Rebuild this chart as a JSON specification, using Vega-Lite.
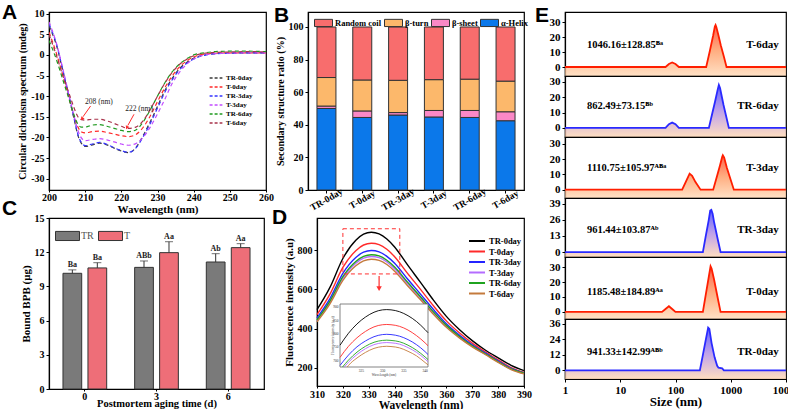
{
"$schema":"https://vega.github.io/schema/vega-lite/v6.json",
"background":"white",
"padding":{"left":1,"top":1,"right":0,"bottom":0},
"config":{
 "font":"Liberation Serif",
 "view":{"stroke":"#000","strokeWidth":1.2},
 "axis":{"grid":false,"domainColor":"#000","domainWidth":1.2,"tickColor":"#000","tickSize":3,"labelColor":"#000","titleColor":"#000","labelFont":"Liberation Serif","titleFont":"Liberation Serif","labelFontWeight":"bold","titleFontWeight":"bold","labelFontSize":10,"titleFontSize":11,"labelPadding":2,"titlePadding":3,"labelOverlap":false,"labelBound":false,"labelFlush":false},
 "legend":{"labelFont":"Liberation Serif","labelFontWeight":"bold","labelColor":"#000","labelFontSize":8.5},
 "title":{"font":"Liberation Sans","fontSize":21,"fontWeight":"bold","anchor":"start","frame":"group","offset":0,"color":"#000"},
 "text":{"font":"Liberation Serif"}
},
"datasets":{
"cd":[
{"s":"TR-0day","wl":200,"cd":7},{"s":"TR-0day","wl":202,"cd":2.5},{"s":"TR-0day","wl":204,"cd":-4.5},{"s":"TR-0day","wl":206,"cd":-12},{"s":"TR-0day","wl":207,"cd":-15.8},{"s":"TR-0day","wl":208,"cd":-19.5},{"s":"TR-0day","wl":209,"cd":-21.5},{"s":"TR-0day","wl":210,"cd":-22.2},{"s":"TR-0day","wl":212,"cd":-21.8},{"s":"TR-0day","wl":214,"cd":-21.4},{"s":"TR-0day","wl":216,"cd":-21.8},{"s":"TR-0day","wl":218,"cd":-22.6},{"s":"TR-0day","wl":220,"cd":-23.3},{"s":"TR-0day","wl":222,"cd":-23.7},{"s":"TR-0day","wl":224,"cd":-22.5},{"s":"TR-0day","wl":226,"cd":-19.6},{"s":"TR-0day","wl":228,"cd":-16.2},{"s":"TR-0day","wl":230,"cd":-12.5},{"s":"TR-0day","wl":232,"cd":-8.7},{"s":"TR-0day","wl":234,"cd":-5.8},{"s":"TR-0day","wl":236,"cd":-3.4},{"s":"TR-0day","wl":238,"cd":-1.9},{"s":"TR-0day","wl":240,"cd":-0.8},{"s":"TR-0day","wl":243,"cd":0},{"s":"TR-0day","wl":246,"cd":0.3},{"s":"TR-0day","wl":250,"cd":0.4},{"s":"TR-0day","wl":255,"cd":0.5},{"s":"TR-0day","wl":260,"cd":0.5},
{"s":"T-0day","wl":200,"cd":5.5},{"s":"T-0day","wl":202,"cd":0.5},{"s":"T-0day","wl":204,"cd":-5.5},{"s":"T-0day","wl":206,"cd":-12},{"s":"T-0day","wl":207,"cd":-15},{"s":"T-0day","wl":208,"cd":-17.5},{"s":"T-0day","wl":209,"cd":-18.7},{"s":"T-0day","wl":210,"cd":-18.9},{"s":"T-0day","wl":212,"cd":-18.6},{"s":"T-0day","wl":214,"cd":-18.5},{"s":"T-0day","wl":216,"cd":-18.8},{"s":"T-0day","wl":218,"cd":-19.2},{"s":"T-0day","wl":220,"cd":-19.6},{"s":"T-0day","wl":222,"cd":-19.8},{"s":"T-0day","wl":224,"cd":-19.3},{"s":"T-0day","wl":226,"cd":-17.6},{"s":"T-0day","wl":228,"cd":-14.8},{"s":"T-0day","wl":230,"cd":-11.3},{"s":"T-0day","wl":232,"cd":-8},{"s":"T-0day","wl":234,"cd":-5.2},{"s":"T-0day","wl":236,"cd":-3},{"s":"T-0day","wl":238,"cd":-1.5},{"s":"T-0day","wl":240,"cd":-0.5},{"s":"T-0day","wl":243,"cd":0.2},{"s":"T-0day","wl":246,"cd":0.4},{"s":"T-0day","wl":250,"cd":0.5},{"s":"T-0day","wl":255,"cd":0.5},{"s":"T-0day","wl":260,"cd":0.5},
{"s":"TR-3day","wl":200,"cd":7.5},{"s":"TR-3day","wl":202,"cd":2.8},{"s":"TR-3day","wl":204,"cd":-4.3},{"s":"TR-3day","wl":206,"cd":-11.8},{"s":"TR-3day","wl":207,"cd":-15.6},{"s":"TR-3day","wl":208,"cd":-19.3},{"s":"TR-3day","wl":209,"cd":-21.3},{"s":"TR-3day","wl":210,"cd":-22},{"s":"TR-3day","wl":212,"cd":-21.6},{"s":"TR-3day","wl":214,"cd":-21.2},{"s":"TR-3day","wl":216,"cd":-21.7},{"s":"TR-3day","wl":218,"cd":-22.5},{"s":"TR-3day","wl":220,"cd":-23.2},{"s":"TR-3day","wl":222,"cd":-23.6},{"s":"TR-3day","wl":224,"cd":-22.6},{"s":"TR-3day","wl":226,"cd":-19.9},{"s":"TR-3day","wl":228,"cd":-16.6},{"s":"TR-3day","wl":230,"cd":-12.9},{"s":"TR-3day","wl":232,"cd":-9.1},{"s":"TR-3day","wl":234,"cd":-6.1},{"s":"TR-3day","wl":236,"cd":-3.7},{"s":"TR-3day","wl":238,"cd":-2.1},{"s":"TR-3day","wl":240,"cd":-1},{"s":"TR-3day","wl":243,"cd":-0.1},{"s":"TR-3day","wl":246,"cd":0.3},{"s":"TR-3day","wl":250,"cd":0.4},{"s":"TR-3day","wl":255,"cd":0.5},{"s":"TR-3day","wl":260,"cd":0.5},
{"s":"T-3day","wl":200,"cd":8},{"s":"T-3day","wl":202,"cd":3},{"s":"T-3day","wl":204,"cd":-4},{"s":"T-3day","wl":206,"cd":-11.5},{"s":"T-3day","wl":207,"cd":-15},{"s":"T-3day","wl":208,"cd":-18.3},{"s":"T-3day","wl":209,"cd":-20.2},{"s":"T-3day","wl":210,"cd":-20.8},{"s":"T-3day","wl":212,"cd":-20.5},{"s":"T-3day","wl":214,"cd":-20.3},{"s":"T-3day","wl":216,"cd":-20.6},{"s":"T-3day","wl":218,"cd":-21.1},{"s":"T-3day","wl":220,"cd":-21.6},{"s":"T-3day","wl":222,"cd":-21.9},{"s":"T-3day","wl":224,"cd":-21.5},{"s":"T-3day","wl":226,"cd":-20},{"s":"T-3day","wl":228,"cd":-17.5},{"s":"T-3day","wl":230,"cd":-14.3},{"s":"T-3day","wl":232,"cd":-10.8},{"s":"T-3day","wl":234,"cd":-7},{"s":"T-3day","wl":236,"cd":-4.3},{"s":"T-3day","wl":238,"cd":-2.3},{"s":"T-3day","wl":240,"cd":-1},{"s":"T-3day","wl":243,"cd":0},{"s":"T-3day","wl":246,"cd":0.3},{"s":"T-3day","wl":250,"cd":0.4},{"s":"T-3day","wl":255,"cd":0.5},{"s":"T-3day","wl":260,"cd":0.5},
{"s":"TR-6day","wl":200,"cd":3.5},{"s":"TR-6day","wl":202,"cd":-1},{"s":"TR-6day","wl":204,"cd":-6.5},{"s":"TR-6day","wl":206,"cd":-12},{"s":"TR-6day","wl":207,"cd":-14.8},{"s":"TR-6day","wl":208,"cd":-16.8},{"s":"TR-6day","wl":209,"cd":-17.5},{"s":"TR-6day","wl":210,"cd":-17.5},{"s":"TR-6day","wl":212,"cd":-17},{"s":"TR-6day","wl":214,"cd":-16.9},{"s":"TR-6day","wl":216,"cd":-17.3},{"s":"TR-6day","wl":218,"cd":-17.8},{"s":"TR-6day","wl":220,"cd":-18.3},{"s":"TR-6day","wl":222,"cd":-18.6},{"s":"TR-6day","wl":224,"cd":-18.2},{"s":"TR-6day","wl":226,"cd":-16.3},{"s":"TR-6day","wl":228,"cd":-13.3},{"s":"TR-6day","wl":230,"cd":-10},{"s":"TR-6day","wl":232,"cd":-6.8},{"s":"TR-6day","wl":234,"cd":-4.2},{"s":"TR-6day","wl":236,"cd":-2.3},{"s":"TR-6day","wl":238,"cd":-1},{"s":"TR-6day","wl":240,"cd":0},{"s":"TR-6day","wl":243,"cd":0.5},{"s":"TR-6day","wl":246,"cd":0.8},{"s":"TR-6day","wl":250,"cd":0.9},{"s":"TR-6day","wl":255,"cd":0.9},{"s":"TR-6day","wl":260,"cd":0.8},
{"s":"T-6day","wl":200,"cd":5},{"s":"T-6day","wl":202,"cd":0},{"s":"T-6day","wl":204,"cd":-5.5},{"s":"T-6day","wl":206,"cd":-10.5},{"s":"T-6day","wl":207,"cd":-13},{"s":"T-6day","wl":208,"cd":-15},{"s":"T-6day","wl":209,"cd":-15.7},{"s":"T-6day","wl":210,"cd":-15.8},{"s":"T-6day","wl":212,"cd":-15.6},{"s":"T-6day","wl":214,"cd":-15.6},{"s":"T-6day","wl":216,"cd":-16},{"s":"T-6day","wl":218,"cd":-16.6},{"s":"T-6day","wl":220,"cd":-17.3},{"s":"T-6day","wl":222,"cd":-17.8},{"s":"T-6day","wl":224,"cd":-17.5},{"s":"T-6day","wl":226,"cd":-16},{"s":"T-6day","wl":228,"cd":-13.2},{"s":"T-6day","wl":230,"cd":-10},{"s":"T-6day","wl":232,"cd":-6.9},{"s":"T-6day","wl":234,"cd":-4.3},{"s":"T-6day","wl":236,"cd":-2.4},{"s":"T-6day","wl":238,"cd":-1.1},{"s":"T-6day","wl":240,"cd":-0.2},{"s":"T-6day","wl":243,"cd":0.4},{"s":"T-6day","wl":246,"cd":0.6},{"s":"T-6day","wl":250,"cd":0.7},{"s":"T-6day","wl":255,"cd":0.8},{"s":"T-6day","wl":260,"cd":0.7}
],
"ss":[
{"sample":"TR-0day","st":"α-Helix","pct":50,"k":1},{"sample":"TR-0day","st":"β-sheet","pct":1.5,"k":2},{"sample":"TR-0day","st":"β-turn","pct":17.5,"k":3},{"sample":"TR-0day","st":"Random coil","pct":31,"k":4},
{"sample":"T-0day","st":"α-Helix","pct":44.5,"k":1},{"sample":"T-0day","st":"β-sheet","pct":4,"k":2},{"sample":"T-0day","st":"β-turn","pct":19,"k":3},{"sample":"T-0day","st":"Random coil","pct":32.5,"k":4},
{"sample":"TR-3day","st":"α-Helix","pct":46,"k":1},{"sample":"TR-3day","st":"β-sheet","pct":1.5,"k":2},{"sample":"TR-3day","st":"β-turn","pct":19.8,"k":3},{"sample":"TR-3day","st":"Random coil","pct":32.7,"k":4},
{"sample":"T-3day","st":"α-Helix","pct":44.8,"k":1},{"sample":"T-3day","st":"β-sheet","pct":4,"k":2},{"sample":"T-3day","st":"β-turn","pct":18.9,"k":3},{"sample":"T-3day","st":"Random coil","pct":32.3,"k":4},
{"sample":"TR-6day","st":"α-Helix","pct":44.5,"k":1},{"sample":"TR-6day","st":"β-sheet","pct":4.3,"k":2},{"sample":"TR-6day","st":"β-turn","pct":19.2,"k":3},{"sample":"TR-6day","st":"Random coil","pct":32,"k":4},
{"sample":"T-6day","st":"α-Helix","pct":42.5,"k":1},{"sample":"T-6day","st":"β-sheet","pct":5.5,"k":2},{"sample":"T-6day","st":"β-turn","pct":18.8,"k":3},{"sample":"T-6day","st":"Random coil","pct":33.2,"k":4}
],
"bpb":[
{"day":"0","g":"TR","v":10.15,"hi":10.45,"lab":"Ba"},{"day":"0","g":"T","v":10.62,"hi":11.08,"lab":"Ba"},
{"day":"3","g":"TR","v":10.67,"hi":11.23,"lab":"ABb"},{"day":"3","g":"T","v":11.96,"hi":12.92,"lab":"Aa"},
{"day":"6","g":"TR","v":11.14,"hi":11.87,"lab":"Ab"},{"day":"6","g":"T","v":12.4,"hi":12.75,"lab":"Aa"}
],
"fl":[
{"s":"TR-0day","wl":310,"fi":496},{"s":"TR-0day","wl":315,"fi":610},{"s":"TR-0day","wl":320,"fi":758},{"s":"TR-0day","wl":325,"fi":851},{"s":"TR-0day","wl":328,"fi":882},{"s":"TR-0day","wl":331,"fi":892},{"s":"TR-0day","wl":334,"fi":884},{"s":"TR-0day","wl":337,"fi":858},{"s":"TR-0day","wl":340,"fi":817},{"s":"TR-0day","wl":345,"fi":725},{"s":"TR-0day","wl":350,"fi":636},{"s":"TR-0day","wl":355,"fi":545},{"s":"TR-0day","wl":360,"fi":462},{"s":"TR-0day","wl":365,"fi":395},{"s":"TR-0day","wl":370,"fi":338},{"s":"TR-0day","wl":375,"fi":290},{"s":"TR-0day","wl":380,"fi":250},{"s":"TR-0day","wl":385,"fi":212},{"s":"TR-0day","wl":390,"fi":185},
{"s":"T-0day","wl":310,"fi":471},{"s":"T-0day","wl":315,"fi":576},{"s":"T-0day","wl":320,"fi":712},{"s":"T-0day","wl":325,"fi":798},{"s":"T-0day","wl":328,"fi":827},{"s":"T-0day","wl":331,"fi":836},{"s":"T-0day","wl":334,"fi":829},{"s":"T-0day","wl":337,"fi":805},{"s":"T-0day","wl":340,"fi":767},{"s":"T-0day","wl":345,"fi":682},{"s":"T-0day","wl":350,"fi":600},{"s":"T-0day","wl":355,"fi":516},{"s":"T-0day","wl":360,"fi":439},{"s":"T-0day","wl":365,"fi":378},{"s":"T-0day","wl":370,"fi":325},{"s":"T-0day","wl":375,"fi":281},{"s":"T-0day","wl":380,"fi":240},{"s":"T-0day","wl":385,"fi":200},{"s":"T-0day","wl":390,"fi":176},
{"s":"TR-3day","wl":310,"fi":454},{"s":"TR-3day","wl":315,"fi":553},{"s":"TR-3day","wl":320,"fi":682},{"s":"TR-3day","wl":325,"fi":763},{"s":"TR-3day","wl":328,"fi":790},{"s":"TR-3day","wl":331,"fi":799},{"s":"TR-3day","wl":334,"fi":792},{"s":"TR-3day","wl":337,"fi":769},{"s":"TR-3day","wl":340,"fi":734},{"s":"TR-3day","wl":345,"fi":653},{"s":"TR-3day","wl":350,"fi":576},{"s":"TR-3day","wl":355,"fi":497},{"s":"TR-3day","wl":360,"fi":424},{"s":"TR-3day","wl":365,"fi":366},{"s":"TR-3day","wl":370,"fi":316},{"s":"TR-3day","wl":375,"fi":275},{"s":"TR-3day","wl":380,"fi":234},{"s":"TR-3day","wl":385,"fi":196},{"s":"TR-3day","wl":390,"fi":173},
{"s":"T-3day","wl":310,"fi":440},{"s":"T-3day","wl":315,"fi":535},{"s":"T-3day","wl":320,"fi":657},{"s":"T-3day","wl":325,"fi":734},{"s":"T-3day","wl":328,"fi":760},{"s":"T-3day","wl":331,"fi":768},{"s":"T-3day","wl":334,"fi":762},{"s":"T-3day","wl":337,"fi":740},{"s":"T-3day","wl":340,"fi":706},{"s":"T-3day","wl":345,"fi":630},{"s":"T-3day","wl":350,"fi":556},{"s":"T-3day","wl":355,"fi":481},{"s":"T-3day","wl":360,"fi":412},{"s":"T-3day","wl":365,"fi":356},{"s":"T-3day","wl":370,"fi":309},{"s":"T-3day","wl":375,"fi":269},{"s":"T-3day","wl":380,"fi":229},{"s":"T-3day","wl":385,"fi":192},{"s":"T-3day","wl":390,"fi":170},
{"s":"TR-6day","wl":310,"fi":444},{"s":"TR-6day","wl":315,"fi":540},{"s":"TR-6day","wl":320,"fi":665},{"s":"TR-6day","wl":325,"fi":743},{"s":"TR-6day","wl":328,"fi":769},{"s":"TR-6day","wl":331,"fi":777},{"s":"TR-6day","wl":334,"fi":771},{"s":"TR-6day","wl":337,"fi":749},{"s":"TR-6day","wl":340,"fi":714},{"s":"TR-6day","wl":345,"fi":637},{"s":"TR-6day","wl":350,"fi":562},{"s":"TR-6day","wl":355,"fi":485},{"s":"TR-6day","wl":360,"fi":416},{"s":"TR-6day","wl":365,"fi":359},{"s":"TR-6day","wl":370,"fi":311},{"s":"TR-6day","wl":375,"fi":271},{"s":"TR-6day","wl":380,"fi":230},{"s":"TR-6day","wl":385,"fi":193},{"s":"TR-6day","wl":390,"fi":171},
{"s":"T-6day","wl":310,"fi":434},{"s":"T-6day","wl":315,"fi":526},{"s":"T-6day","wl":320,"fi":646},{"s":"T-6day","wl":325,"fi":721},{"s":"T-6day","wl":328,"fi":746},{"s":"T-6day","wl":331,"fi":754},{"s":"T-6day","wl":334,"fi":748},{"s":"T-6day","wl":337,"fi":727},{"s":"T-6day","wl":340,"fi":693},{"s":"T-6day","wl":345,"fi":619},{"s":"T-6day","wl":350,"fi":547},{"s":"T-6day","wl":355,"fi":473},{"s":"T-6day","wl":360,"fi":406},{"s":"T-6day","wl":365,"fi":352},{"s":"T-6day","wl":370,"fi":306},{"s":"T-6day","wl":375,"fi":267},{"s":"T-6day","wl":380,"fi":227},{"s":"T-6day","wl":385,"fi":190},{"s":"T-6day","wl":390,"fi":168}
],
"fli":[
{"s":"TR-0day","wl":320,"fi":758},{"s":"TR-0day","wl":322,"fi":803},{"s":"TR-0day","wl":324,"fi":838},{"s":"TR-0day","wl":326,"fi":864},{"s":"TR-0day","wl":328,"fi":882},{"s":"TR-0day","wl":330,"fi":891},{"s":"TR-0day","wl":331,"fi":892},{"s":"TR-0day","wl":332,"fi":891},{"s":"TR-0day","wl":334,"fi":884},{"s":"TR-0day","wl":336,"fi":869},{"s":"TR-0day","wl":338,"fi":847},{"s":"TR-0day","wl":340,"fi":817},{"s":"TR-0day","wl":340.7,"fi":805},
{"s":"T-0day","wl":320,"fi":712},{"s":"T-0day","wl":322,"fi":754},{"s":"T-0day","wl":324,"fi":786},{"s":"T-0day","wl":326,"fi":810},{"s":"T-0day","wl":328,"fi":827},{"s":"T-0day","wl":330,"fi":835},{"s":"T-0day","wl":331,"fi":836},{"s":"T-0day","wl":332,"fi":835},{"s":"T-0day","wl":334,"fi":829},{"s":"T-0day","wl":336,"fi":815},{"s":"T-0day","wl":338,"fi":794},{"s":"T-0day","wl":340,"fi":767},{"s":"T-0day","wl":340.7,"fi":756},
{"s":"TR-3day","wl":320,"fi":682},{"s":"TR-3day","wl":322,"fi":721},{"s":"TR-3day","wl":324,"fi":752},{"s":"TR-3day","wl":326,"fi":774},{"s":"TR-3day","wl":328,"fi":790},{"s":"TR-3day","wl":330,"fi":798},{"s":"TR-3day","wl":331,"fi":799},{"s":"TR-3day","wl":332,"fi":798},{"s":"TR-3day","wl":334,"fi":792},{"s":"TR-3day","wl":336,"fi":779},{"s":"TR-3day","wl":338,"fi":760},{"s":"TR-3day","wl":340,"fi":734},{"s":"TR-3day","wl":340.7,"fi":723},
{"s":"T-3day","wl":321,"fi":676},{"s":"T-3day","wl":322,"fi":694},{"s":"T-3day","wl":324,"fi":723},{"s":"T-3day","wl":326,"fi":745},{"s":"T-3day","wl":328,"fi":760},{"s":"T-3day","wl":330,"fi":767},{"s":"T-3day","wl":331,"fi":768},{"s":"T-3day","wl":332,"fi":767},{"s":"T-3day","wl":334,"fi":762},{"s":"T-3day","wl":336,"fi":749},{"s":"T-3day","wl":338,"fi":731},{"s":"T-3day","wl":340,"fi":706},{"s":"T-3day","wl":340.7,"fi":696},
{"s":"TR-6day","wl":320.6,"fi":676},{"s":"TR-6day","wl":322,"fi":702},{"s":"TR-6day","wl":324,"fi":732},{"s":"TR-6day","wl":326,"fi":754},{"s":"TR-6day","wl":328,"fi":769},{"s":"TR-6day","wl":330,"fi":776},{"s":"TR-6day","wl":331,"fi":777},{"s":"TR-6day","wl":332,"fi":776},{"s":"TR-6day","wl":334,"fi":771},{"s":"TR-6day","wl":336,"fi":758},{"s":"TR-6day","wl":338,"fi":739},{"s":"TR-6day","wl":340,"fi":714},{"s":"TR-6day","wl":340.7,"fi":704},
{"s":"T-6day","wl":321.7,"fi":676},{"s":"T-6day","wl":322,"fi":682},{"s":"T-6day","wl":324,"fi":710},{"s":"T-6day","wl":326,"fi":731},{"s":"T-6day","wl":328,"fi":746},{"s":"T-6day","wl":330,"fi":753},{"s":"T-6day","wl":331,"fi":754},{"s":"T-6day","wl":332,"fi":753},{"s":"T-6day","wl":334,"fi":748},{"s":"T-6day","wl":336,"fi":735},{"s":"T-6day","wl":338,"fi":718},{"s":"T-6day","wl":340,"fi":693},{"s":"T-6day","wl":340.7,"fi":684}
],
"dls":[
{"s":"T-6day","size":1,"n":0},{"s":"T-6day","size":66,"n":0},{"s":"T-6day","size":76,"n":2},{"s":"T-6day","size":87,"n":3},{"s":"T-6day","size":100,"n":2},{"s":"T-6day","size":115,"n":0},{"s":"T-6day","size":359,"n":0},{"s":"T-6day","size":375,"n":3},{"s":"T-6day","size":420,"n":11},{"s":"T-6day","size":480,"n":21},{"s":"T-6day","size":515,"n":27},{"s":"T-6day","size":531,"n":28},{"s":"T-6day","size":550,"n":26.5},{"s":"T-6day","size":600,"n":21},{"s":"T-6day","size":660,"n":14.5},{"s":"T-6day","size":750,"n":7},{"s":"T-6day","size":839,"n":0},{"s":"T-6day","size":10000,"n":0},
{"s":"TR-6day","size":1,"n":0},{"s":"TR-6day","size":66,"n":0},{"s":"TR-6day","size":76,"n":2.5},{"s":"TR-6day","size":87,"n":3.5},{"s":"TR-6day","size":100,"n":2.5},{"s":"TR-6day","size":115,"n":0},{"s":"TR-6day","size":402,"n":0},{"s":"TR-6day","size":450,"n":7.6},{"s":"TR-6day","size":520,"n":17.3},{"s":"TR-6day","size":580,"n":25},{"s":"TR-6day","size":609,"n":28},{"s":"TR-6day","size":640,"n":26},{"s":"TR-6day","size":740,"n":15},{"s":"TR-6day","size":840,"n":6.5},{"s":"TR-6day","size":924,"n":0},{"s":"TR-6day","size":10000,"n":0},
{"s":"T-3day","size":1,"n":0},{"s":"T-3day","size":132,"n":0},{"s":"T-3day","size":155,"n":5.5},{"s":"T-3day","size":180,"n":10.5},{"s":"T-3day","size":200,"n":9},{"s":"T-3day","size":230,"n":5},{"s":"T-3day","size":284,"n":0},{"s":"T-3day","size":481,"n":0},{"s":"T-3day","size":560,"n":8.5},{"s":"T-3day","size":640,"n":16},{"s":"T-3day","size":700,"n":21.5},{"s":"T-3day","size":719,"n":22.5},{"s":"T-3day","size":760,"n":21},{"s":"T-3day","size":850,"n":14.3},{"s":"T-3day","size":1000,"n":6.3},{"s":"T-3day","size":1138,"n":0},{"s":"T-3day","size":10000,"n":0},
{"s":"TR-3day","size":1,"n":0},{"s":"TR-3day","size":313,"n":0},{"s":"TR-3day","size":350,"n":12},{"s":"TR-3day","size":400,"n":26},{"s":"TR-3day","size":425,"n":33.5},{"s":"TR-3day","size":445,"n":34},{"s":"TR-3day","size":470,"n":31},{"s":"TR-3day","size":500,"n":24},{"s":"TR-3day","size":580,"n":10.5},{"s":"TR-3day","size":654,"n":0},{"s":"TR-3day","size":10000,"n":0},
{"s":"T-0day","size":1,"n":0},{"s":"T-0day","size":57,"n":0},{"s":"T-0day","size":66,"n":2},{"s":"T-0day","size":76,"n":3.8},{"s":"T-0day","size":87,"n":2},{"s":"T-0day","size":100,"n":0},{"s":"T-0day","size":313,"n":0},{"s":"T-0day","size":350,"n":10.7},{"s":"T-0day","size":400,"n":23.4},{"s":"T-0day","size":431,"n":30.5},{"s":"T-0day","size":450,"n":29},{"s":"T-0day","size":500,"n":21.5},{"s":"T-0day","size":580,"n":9.5},{"s":"T-0day","size":654,"n":0},{"s":"T-0day","size":10000,"n":0},
{"s":"TR-0day","size":1,"n":0},{"s":"TR-0day","size":276,"n":0},{"s":"TR-0day","size":310,"n":11},{"s":"TR-0day","size":350,"n":22.7},{"s":"TR-0day","size":390,"n":33},{"s":"TR-0day","size":410,"n":32},{"s":"TR-0day","size":450,"n":21},{"s":"TR-0day","size":510,"n":10},{"s":"TR-0day","size":568,"n":3.5},{"s":"TR-0day","size":600,"n":2},{"s":"TR-0day","size":700,"n":1.5},{"s":"TR-0day","size":750,"n":0},{"s":"TR-0day","size":10000,"n":0}
],
"dlslab":[
{"s":"T-6day","size":2.5,"size2":7400,"n":15,"t":"1046.16±128.85ᴮᵃ"},
{"s":"TR-6day","size":2.5,"size2":7400,"n":14.4,"t":"862.49±73.15ᴮᵇ"},
{"s":"T-3day","size":2.5,"size2":7400,"n":14.4,"t":"1110.75±105.97ᴬᴮᵃ"},
{"s":"TR-3day","size":2.5,"size2":7400,"n":17.5,"t":"961.44±103.87ᴬᵇ"},
{"s":"T-0day","size":2.5,"size2":7400,"n":13.3,"t":"1185.48±184.89ᴬᵃ"},
{"s":"TR-0day","size":2.5,"size2":7400,"n":14,"t":"941.33±142.99ᴬᴮᵇ"}
]
},
"hconcat":[
{"vconcat":[
 {"hconcat":[
  {"width":217,"height":178,
   "title":{"text":"A","dx":-47,"dy":18},
   "layer":[
    {"data":{"name":"cd"},
     "mark":{"type":"line","strokeDash":[4,3],"strokeWidth":1.2,"interpolate":"monotone","clip":true},
     "encoding":{
      "x":{"field":"wl","type":"quantitative","scale":{"domain":[200,260],"nice":false,"zero":false},"axis":{"values":[200,210,220,230,240,250,260],"title":"Wavelength (nm)","labelOverlap":false,"tickSize":2,"labelPadding":0,"titlePadding":1}},
      "y":{"field":"cd","type":"quantitative","scale":{"domain":[-32.75,10.4],"nice":false,"zero":false},"axis":{"values":[-30,-25,-20,-15,-10,-5,0,5,10],"labelOverlap":false,"labelExpr":"toString(datum.value)","title":"Circular dichroism spectrum (mdeg)","titleFontSize":10}},
      "color":{"field":"s","type":"nominal","scale":{"domain":["TR-0day","T-0day","TR-3day","T-3day","TR-6day","T-6day"],"range":["#3a3a3a","#ff2a2a","#3535ff","#c24cff","#1f9a1f","#a8324a"]},
       "legend":{"orient":"none","legendX":162,"legendY":61,"title":null,"symbolType":"M-1.6,0H1.6","symbolDash":[3,2],"symbolStrokeWidth":1.3,"symbolSize":64,"labelFontSize":7,"rowPadding":1,"labelOffset":5,"padding":0}}
     }},
    {"data":{"values":[{"wl":213.8,"cd":-11.3,"t":"208 (nm)"},{"wl":224.9,"cd":-13.2,"t":"222 (nm)"}]},
     "mark":{"type":"text","fontSize":7.5,"color":"#222"},
     "encoding":{"x":{"field":"wl","type":"quantitative","axis":{"values":[200,210,220,230,240,250,260],"title":"Wavelength (nm)","labelOverlap":false,"tickSize":2,"labelPadding":0,"titlePadding":1}},"y":{"field":"cd","type":"quantitative","axis":{"values":[-30,-25,-20,-15,-10,-5,0,5,10],"labelOverlap":false,"labelExpr":"toString(datum.value)","title":"Circular dichroism spectrum (mdeg)","titleFontSize":10}},"text":{"field":"t"}}},
    {"data":{"values":[{"wl":211.5,"cd":-12.4,"wl2":209.4,"cd2":-15},{"wl":223.5,"cd":-14.4,"wl2":221.8,"cd2":-17.1}]},
     "mark":{"type":"rule","color":"#ff2a2a","strokeWidth":1},
     "encoding":{"x":{"field":"wl","type":"quantitative","axis":{"values":[200,210,220,230,240,250,260],"title":"Wavelength (nm)","labelOverlap":false,"tickSize":2,"labelPadding":0,"titlePadding":1}},"y":{"field":"cd","type":"quantitative","axis":{"values":[-30,-25,-20,-15,-10,-5,0,5,10],"labelOverlap":false,"labelExpr":"toString(datum.value)","title":"Circular dichroism spectrum (mdeg)","titleFontSize":10}},"x2":{"field":"wl2"},"y2":{"field":"cd2"}}},
    {"data":{"values":[{"wl":209.2,"cd":-15.4,"ang":216},{"wl":221.6,"cd":-17.5,"ang":205}]},
     "mark":{"type":"point","shape":"triangle","size":16,"filled":true,"color":"#ff2a2a","opacity":1},
     "encoding":{"x":{"field":"wl","type":"quantitative","axis":{"values":[200,210,220,230,240,250,260],"title":"Wavelength (nm)","labelOverlap":false,"tickSize":2,"labelPadding":0,"titlePadding":1}},"y":{"field":"cd","type":"quantitative","axis":{"values":[-30,-25,-20,-15,-10,-5,0,5,10],"labelOverlap":false,"labelExpr":"toString(datum.value)","title":"Circular dichroism spectrum (mdeg)","titleFontSize":10}},"angle":{"field":"ang","type":"quantitative","scale":null}}}
   ]},
  {"width":216,"height":178,
   "title":{"text":"B","dx":-34,"dy":18},
   "data":{"name":"ss"},
   "mark":{"type":"bar","stroke":"#333","strokeWidth":1},
   "encoding":{
    "x":{"field":"sample","type":"nominal","sort":["TR-0day","T-0day","TR-3day","T-3day","TR-6day","T-6day"],"scale":{"paddingInner":0.47,"paddingOuter":0.25},"axis":{"title":null,"labelOverlap":false,"labelAngle":-30,"labelAlign":"center","labelBaseline":"middle","labelPadding":6,"labelFontSize":9.5}},
    "y":{"field":"pct","type":"quantitative","stack":"zero","scale":{"domain":[0,109.2],"nice":false},"axis":{"values":[0,20,40,60,80,100],"labelOverlap":false,"title":"Secondary structure ratio (%)","titleFontSize":10}},
    "color":{"field":"st","type":"nominal","scale":{"domain":["Random coil","β-turn","β-sheet","α-Helix"],"range":["#f86d6d","#fcb86b","#fb88c6","#0b78ea"]},
     "legend":{"orient":"none","legendX":6,"legendY":1,"direction":"horizontal","title":null,"symbolType":"M-1,-0.4H1V0.4H-1Z","symbolSize":324,"symbolStrokeColor":"#333","symbolStrokeWidth":1,"symbolOpacity":1,"labelFontSize":8.5,"columnPadding":0,"labelOffset":2,"padding":0}},
    "order":{"field":"k","type":"quantitative"}
   }}
 ],"spacing":42,"bounds":"flush","resolve":{"scale":{"x":"independent","y":"independent","color":"independent"},"legend":{"color":"independent"}}},
 {"hconcat":[
  {"width":215,"height":171,
   "title":{"text":"C","dx":-47,"dy":10},
   "data":{"name":"bpb"},
   "encoding":{
    "x":{"field":"day","type":"nominal","scale":{"paddingInner":0.39,"paddingOuter":0.195},"axis":{"title":"Postmortem aging time (d)","labelOverlap":false,"labelAngle":0,"titleFontSize":10.5,"tickSize":2,"labelPadding":0,"titlePadding":-3}},
    "xOffset":{"field":"g","type":"nominal","sort":["TR","T"],"scale":{"paddingInner":0.25}}
   },
   "layer":[
    {"mark":{"type":"bar","stroke":"#333","strokeWidth":1},
     "encoding":{
      "y":{"field":"v","type":"quantitative","scale":{"domain":[0,15],"nice":false},"axis":{"values":[0,3,6,9,12,15],"labelOverlap":false,"title":"Bound BPB (μg)","titleFontSize":11}},
      "color":{"field":"g","type":"nominal","scale":{"domain":["TR","T"],"range":["#7a7a7a","#ee6e78"]},
       "legend":{"orient":"none","legendX":6,"legendY":5,"direction":"horizontal","title":null,"symbolType":"M-1,-0.38H1V0.38H-1Z","symbolSize":576,"symbolStrokeColor":"#333","symbolStrokeWidth":1,"symbolOpacity":1,"labelFontWeight":"normal","labelColor":"#555","labelFontSize":10,"columnPadding":2,"labelOffset":1,"padding":0}}
     }},
    {"mark":{"type":"rule","color":"#333","strokeWidth":1},"encoding":{"y":{"field":"v","type":"quantitative","axis":{"values":[0,3,6,9,12,15],"labelOverlap":false,"title":"Bound BPB (μg)","titleFontSize":11}},"y2":{"field":"hi"}}},
    {"mark":{"type":"tick","color":"#333","thickness":1,"size":8},"encoding":{"y":{"field":"hi","type":"quantitative","axis":{"values":[0,3,6,9,12,15],"labelOverlap":false,"title":"Bound BPB (μg)","titleFontSize":11}}}},
    {"mark":{"type":"text","fontSize":8,"fontWeight":"bold","baseline":"bottom","dy":-1,"color":"#222"},"encoding":{"y":{"field":"hi","type":"quantitative","axis":{"values":[0,3,6,9,12,15],"labelOverlap":false,"title":"Bound BPB (μg)","titleFontSize":11}},"text":{"field":"lab"}}}
   ]},
  {"width":207,"height":168,
   "title":{"text":"D","dx":-45,"dy":14},
   "layer":[
    {"layer":[
     {"data":{"name":"fl"},
      "mark":{"type":"line","strokeWidth":1.4,"interpolate":"monotone"},
      "encoding":{
       "x":{"field":"wl","type":"quantitative","scale":{"domain":[310,390],"nice":false,"zero":false},"axis":{"values":[310,320,330,340,350,360,370,380,390],"labelOverlap":false,"title":"Wavelength (nm)","titleFontSize":11.5,"tickSize":2,"labelPadding":1,"titlePadding":0}},
       "y":{"field":"fi","type":"quantitative","scale":{"domain":[106,965],"nice":false,"zero":false},"axis":{"values":[200,400,600,800],"labelOverlap":false,"title":"Fluorescence intensity (a.u)","titleFontSize":11}},
       "color":{"field":"s","type":"nominal","scale":{"domain":["TR-0day","T-0day","TR-3day","T-3day","TR-6day","T-6day"],"range":["#000000","#ff2a2a","#2424ff","#b46cff","#1fa31f","#c47a3c"]},
        "legend":{"orient":"none","legendX":155,"legendY":18,"title":null,"symbolType":"M-2,0H2","symbolStrokeWidth":2,"symbolSize":64,"labelFontSize":8.5,"rowPadding":0.5,"labelOffset":7,"padding":0}}
      }},
     {"data":{"values":[{"wl":320,"wl2":342,"fi":679,"fi2":910}]},
      "mark":{"type":"rect","fillOpacity":0,"stroke":"#ff3030","strokeDash":[4,3],"strokeWidth":1},
      "encoding":{"x":{"field":"wl","type":"quantitative","axis":{"values":[310,320,330,340,350,360,370,380,390],"labelOverlap":false,"title":"Wavelength (nm)","titleFontSize":11.5,"tickSize":2,"labelPadding":1,"titlePadding":0}},"x2":{"field":"wl2"},"y":{"field":"fi","type":"quantitative","axis":{"values":[200,400,600,800],"labelOverlap":false,"title":"Fluorescence intensity (a.u)","titleFontSize":11}},"y2":{"field":"fi2"}}},
     {"data":{"values":[{"wl":334,"fi":668,"fi2":608}]},
      "mark":{"type":"rule","color":"#ff3030","strokeWidth":1.2},
      "encoding":{"x":{"field":"wl","type":"quantitative","axis":{"values":[310,320,330,340,350,360,370,380,390],"labelOverlap":false,"title":"Wavelength (nm)","titleFontSize":11.5,"tickSize":2,"labelPadding":1,"titlePadding":0}},"y":{"field":"fi","type":"quantitative","axis":{"values":[200,400,600,800],"labelOverlap":false,"title":"Fluorescence intensity (a.u)","titleFontSize":11}},"y2":{"field":"fi2"}}},
     {"data":{"values":[{"wl":334,"fi":604}]},
      "mark":{"type":"point","shape":"triangle-down","size":30,"filled":true,"color":"#ff3030","opacity":1},
      "encoding":{"x":{"field":"wl","type":"quantitative","axis":{"values":[310,320,330,340,350,360,370,380,390],"labelOverlap":false,"title":"Wavelength (nm)","titleFontSize":11.5,"tickSize":2,"labelPadding":1,"titlePadding":0}},"y":{"field":"fi","type":"quantitative","axis":{"values":[200,400,600,800],"labelOverlap":false,"title":"Fluorescence intensity (a.u)","titleFontSize":11}}}}
    ]},
    {"layer":[
     {"data":{"values":[{"wl":320,"wl2":340.7,"fi":676,"fi2":913}]},
      "mark":{"type":"rect","fill":"#ffffff","stroke":"#666","strokeWidth":0.8},
      "encoding":{"x":{"field":"wl","type":"quantitative","scale":{"domain":[320,340.7],"range":[23,111],"nice":false,"zero":false},"axis":null},"x2":{"field":"wl2"},"y":{"field":"fi","type":"quantitative","scale":{"domain":[676,913],"range":[149,86],"nice":false,"zero":false},"axis":null},"y2":{"field":"fi2"}}},
     {"data":{"name":"fli"},
      "mark":{"type":"line","strokeWidth":0.9,"interpolate":"monotone"},
      "encoding":{"x":{"field":"wl","type":"quantitative","axis":null},"y":{"field":"fi","type":"quantitative","axis":null},
       "color":{"field":"s","type":"nominal","scale":{"domain":["TR-0day","T-0day","TR-3day","T-3day","TR-6day","T-6day"],"range":["#000000","#ff2a2a","#2424ff","#b46cff","#1fa31f","#c47a3c"]},
        "legend":{"orient":"none","legendX":155,"legendY":18,"title":null,"symbolType":"M-2,0H2","symbolStrokeWidth":2,"symbolSize":64,"labelFontSize":8.5,"rowPadding":0.5,"labelOffset":7,"padding":0}}}},
     {"data":{"values":[{"wl":325,"fi":676,"t":"325"},{"wl":330,"fi":676,"t":"330"},{"wl":335,"fi":676,"t":"335"},{"wl":340,"fi":676,"t":"340"}]},
      "mark":{"type":"text","fontSize":3.5,"baseline":"top","dy":1.5,"color":"#333"},
      "encoding":{"x":{"field":"wl","type":"quantitative","axis":null},"y":{"field":"fi","type":"quantitative","axis":null},"text":{"field":"t"}}},
     {"data":{"values":[{"wl":330.35,"fi":676,"t":"Wavelength (nm)"}]},
      "mark":{"type":"text","fontSize":3.5,"baseline":"top","dy":6,"color":"#333"},
      "encoding":{"x":{"field":"wl","type":"quantitative","axis":null},"y":{"field":"fi","type":"quantitative","axis":null},"text":{"field":"t"}}},
     {"data":{"values":[{"wl":320,"fi":700,"t":"700"},{"wl":320,"fi":750,"t":"750"},{"wl":320,"fi":800,"t":"800"},{"wl":320,"fi":850,"t":"850"},{"wl":320,"fi":900,"t":"900"}]},
      "mark":{"type":"text","fontSize":3.5,"align":"right","dx":-1.5,"color":"#333"},
      "encoding":{"x":{"field":"wl","type":"quantitative","axis":null},"y":{"field":"fi","type":"quantitative","axis":null},"text":{"field":"t"}}},
     {"data":{"values":[{"wl":318.4,"fi":794,"t":"Fluorescence intensity (a.u)"}]},
      "mark":{"type":"text","fontSize":3.5,"angle":270,"color":"#333"},
      "encoding":{"x":{"field":"wl","type":"quantitative","axis":null},"y":{"field":"fi","type":"quantitative","axis":null},"text":{"field":"t"}}}
    ]}
   ],
   "resolve":{"scale":{"x":"independent","y":"independent"}}}
 ],"spacing":53,"bounds":"flush","resolve":{"scale":{"x":"independent","y":"independent","color":"independent"},"legend":{"color":"independent"}}}
],"spacing":-18,"resolve":{"scale":{"x":"independent","y":"independent","color":"independent"},"legend":{"color":"independent"}}},
{"vconcat":[
 {"width":221,"height":64,"title":{"text":"E","dx":-30,"dy":18},
  "layer":[
   {"data":{"name":"dls"},"transform":[{"filter":"datum.s === 'T-6day'"}],
    "mark":{"type":"area","clip":true,"fill":{"gradient":"linear","x1":0,"y1":0,"x2":0,"y2":1,"stops":[{"offset":0,"color":"#ff1e00"},{"offset":0.5,"color":"#ff8a4a"},{"offset":1,"color":"#ffd4ac"}]},"line":{"color":"#ff1e00","strokeWidth":1.8}},
    "encoding":{"x":{"field":"size","type":"quantitative","scale":{"type":"log","domain":[1,10000],"nice":false},"axis":null},
     "y":{"field":"n","type":"quantitative","scale":{"domain":[-6,36.7],"nice":false,"zero":false},"axis":{"values":[0,10,20,30],"labelOverlap":false,"title":null,"labelFontSize":11}},
     "y2":{"datum":-6}}},
   {"data":{"name":"dlslab"},"transform":[{"filter":"datum.s === 'T-6day'"}],"mark":{"type":"text","align":"left","fontWeight":"bold","fontSize":10.5},
    "encoding":{"x":{"field":"size","type":"quantitative","axis":null},"y":{"field":"n","type":"quantitative","axis":{"values":[0,10,20,30],"labelOverlap":false,"title":null,"labelFontSize":11}},"text":{"field":"t"}}},
   {"data":{"name":"dlslab"},"transform":[{"filter":"datum.s === 'T-6day'"}],"mark":{"type":"text","align":"right","fontWeight":"bold","fontSize":11},
    "encoding":{"x":{"field":"size2","type":"quantitative","axis":null},"y":{"field":"n","type":"quantitative","axis":{"values":[0,10,20,30],"labelOverlap":false,"title":null,"labelFontSize":11}},"text":{"field":"s"}}}
  ]},
 {"width":221,"height":61,
  "layer":[
   {"data":{"name":"dls"},"transform":[{"filter":"datum.s === 'TR-6day'"}],
    "mark":{"type":"area","clip":true,"fill":{"gradient":"linear","x1":0,"y1":0,"x2":0,"y2":1,"stops":[{"offset":0,"color":"#2020ff"},{"offset":0.5,"color":"#a47ae0"},{"offset":1,"color":"#ffd0a6"}]},"line":{"color":"#2a2aff","strokeWidth":1.8}},
    "encoding":{"x":{"field":"size","type":"quantitative","scale":{"type":"log","domain":[1,10000],"nice":false},"axis":null},
     "y":{"field":"n","type":"quantitative","scale":{"domain":[-5.9,33.9],"nice":false,"zero":false},"axis":{"values":[0,10,20,30],"labelOverlap":false,"title":null,"labelFontSize":11}},
     "y2":{"datum":-5.9}}},
   {"data":{"name":"dlslab"},"transform":[{"filter":"datum.s === 'TR-6day'"}],"mark":{"type":"text","align":"left","fontWeight":"bold","fontSize":10.5},
    "encoding":{"x":{"field":"size","type":"quantitative","axis":null},"y":{"field":"n","type":"quantitative","axis":{"values":[0,10,20,30],"labelOverlap":false,"title":null,"labelFontSize":11}},"text":{"field":"t"}}},
   {"data":{"name":"dlslab"},"transform":[{"filter":"datum.s === 'TR-6day'"}],"mark":{"type":"text","align":"right","fontWeight":"bold","fontSize":11},
    "encoding":{"x":{"field":"size2","type":"quantitative","axis":null},"y":{"field":"n","type":"quantitative","axis":{"values":[0,10,20,30],"labelOverlap":false,"title":null,"labelFontSize":11}},"text":{"field":"s"}}}
  ]},
 {"width":221,"height":61,
  "layer":[
   {"data":{"name":"dls"},"transform":[{"filter":"datum.s === 'T-3day'"}],
    "mark":{"type":"area","clip":true,"fill":{"gradient":"linear","x1":0,"y1":0,"x2":0,"y2":1,"stops":[{"offset":0,"color":"#ff1e00"},{"offset":0.5,"color":"#ff8a4a"},{"offset":1,"color":"#ffd4ac"}]},"line":{"color":"#ff1e00","strokeWidth":1.8}},
    "encoding":{"x":{"field":"size","type":"quantitative","scale":{"type":"log","domain":[1,10000],"nice":false},"axis":null},
     "y":{"field":"n","type":"quantitative","scale":{"domain":[-5.4,34.4],"nice":false,"zero":false},"axis":{"values":[0,10,20,30],"labelOverlap":false,"title":null,"labelFontSize":11}},
     "y2":{"datum":-5.4}}},
   {"data":{"name":"dlslab"},"transform":[{"filter":"datum.s === 'T-3day'"}],"mark":{"type":"text","align":"left","fontWeight":"bold","fontSize":10.5},
    "encoding":{"x":{"field":"size","type":"quantitative","axis":null},"y":{"field":"n","type":"quantitative","axis":{"values":[0,10,20,30],"labelOverlap":false,"title":null,"labelFontSize":11}},"text":{"field":"t"}}},
   {"data":{"name":"dlslab"},"transform":[{"filter":"datum.s === 'T-3day'"}],"mark":{"type":"text","align":"right","fontWeight":"bold","fontSize":11},
    "encoding":{"x":{"field":"size2","type":"quantitative","axis":null},"y":{"field":"n","type":"quantitative","axis":{"values":[0,10,20,30],"labelOverlap":false,"title":null,"labelFontSize":11}},"text":{"field":"s"}}}
  ]},
 {"width":221,"height":59,
  "layer":[
   {"data":{"name":"dls"},"transform":[{"filter":"datum.s === 'TR-3day'"}],
    "mark":{"type":"area","clip":true,"fill":{"gradient":"linear","x1":0,"y1":0,"x2":0,"y2":1,"stops":[{"offset":0,"color":"#2020ff"},{"offset":0.5,"color":"#a47ae0"},{"offset":1,"color":"#ffd0a6"}]},"line":{"color":"#2a2aff","strokeWidth":1.8}},
    "encoding":{"x":{"field":"size","type":"quantitative","scale":{"type":"log","domain":[1,10000],"nice":false},"axis":null},
     "y":{"field":"n","type":"quantitative","scale":{"domain":[-4,43.6],"nice":false,"zero":false},"axis":{"values":[0,13,26,39],"labelOverlap":false,"title":null,"labelFontSize":11}},
     "y2":{"datum":-4}}},
   {"data":{"name":"dlslab"},"transform":[{"filter":"datum.s === 'TR-3day'"}],"mark":{"type":"text","align":"left","fontWeight":"bold","fontSize":10.5},
    "encoding":{"x":{"field":"size","type":"quantitative","axis":null},"y":{"field":"n","type":"quantitative","axis":{"values":[0,13,26,39],"labelOverlap":false,"title":null,"labelFontSize":11}},"text":{"field":"t"}}},
   {"data":{"name":"dlslab"},"transform":[{"filter":"datum.s === 'TR-3day'"}],"mark":{"type":"text","align":"right","fontWeight":"bold","fontSize":11},
    "encoding":{"x":{"field":"size2","type":"quantitative","axis":null},"y":{"field":"n","type":"quantitative","axis":{"values":[0,13,26,39],"labelOverlap":false,"title":null,"labelFontSize":11}},"text":{"field":"s"}}}
  ]},
 {"width":221,"height":62,
  "layer":[
   {"data":{"name":"dls"},"transform":[{"filter":"datum.s === 'T-0day'"}],
    "mark":{"type":"area","clip":true,"fill":{"gradient":"linear","x1":0,"y1":0,"x2":0,"y2":1,"stops":[{"offset":0,"color":"#ff1e00"},{"offset":0.5,"color":"#ff8a4a"},{"offset":1,"color":"#ffd4ac"}]},"line":{"color":"#ff1e00","strokeWidth":1.8}},
    "encoding":{"x":{"field":"size","type":"quantitative","scale":{"type":"log","domain":[1,10000],"nice":false},"axis":null},
     "y":{"field":"n","type":"quantitative","scale":{"domain":[-4.7,36.7],"nice":false,"zero":false},"axis":{"values":[0,10,20,30],"labelOverlap":false,"title":null,"labelFontSize":11}},
     "y2":{"datum":-4.7}}},
   {"data":{"name":"dlslab"},"transform":[{"filter":"datum.s === 'T-0day'"}],"mark":{"type":"text","align":"left","fontWeight":"bold","fontSize":10.5},
    "encoding":{"x":{"field":"size","type":"quantitative","axis":null},"y":{"field":"n","type":"quantitative","axis":{"values":[0,10,20,30],"labelOverlap":false,"title":null,"labelFontSize":11}},"text":{"field":"t"}}},
   {"data":{"name":"dlslab"},"transform":[{"filter":"datum.s === 'T-0day'"}],"mark":{"type":"text","align":"right","fontWeight":"bold","fontSize":11},
    "encoding":{"x":{"field":"size2","type":"quantitative","axis":null},"y":{"field":"n","type":"quantitative","axis":{"values":[0,10,20,30],"labelOverlap":false,"title":null,"labelFontSize":11}},"text":{"field":"s"}}}
  ]},
 {"width":221,"height":60,
  "layer":[
   {"data":{"name":"dls"},"transform":[{"filter":"datum.s === 'TR-0day'"}],
    "mark":{"type":"area","clip":true,"fill":{"gradient":"linear","x1":0,"y1":0,"x2":0,"y2":1,"stops":[{"offset":0,"color":"#2020ff"},{"offset":0.5,"color":"#a47ae0"},{"offset":1,"color":"#ffd0a6"}]},"line":{"color":"#2a2aff","strokeWidth":1.8}},
    "encoding":{"x":{"field":"size","type":"quantitative","scale":{"type":"log","domain":[1,10000],"nice":false},"axis":{"values":[1,10,100,1000,10000],"labelExpr":"format(datum.value,'d')","title":"Size (nm)","titleFontSize":13,"labelFontSize":11,"labelPadding":2,"titlePadding":0,"labelBound":false,"labelFlush":false,"labelOverlap":false}},
     "y":{"field":"n","type":"quantitative","scale":{"domain":[-6.7,39.6],"nice":false,"zero":false},"axis":{"values":[0,12,24,36],"labelOverlap":false,"title":null,"labelFontSize":11}},
     "y2":{"datum":-6.7}}},
   {"data":{"name":"dlslab"},"transform":[{"filter":"datum.s === 'TR-0day'"}],"mark":{"type":"text","align":"left","fontWeight":"bold","fontSize":10.5},
    "encoding":{"x":{"field":"size","type":"quantitative","axis":{"values":[1,10,100,1000,10000],"labelExpr":"format(datum.value,'d')","title":"Size (nm)","titleFontSize":13,"labelFontSize":11,"labelPadding":2,"titlePadding":0,"labelBound":false,"labelFlush":false,"labelOverlap":false}},"y":{"field":"n","type":"quantitative","axis":{"values":[0,12,24,36],"labelOverlap":false,"title":null,"labelFontSize":11}},"text":{"field":"t"}}},
   {"data":{"name":"dlslab"},"transform":[{"filter":"datum.s === 'TR-0day'"}],"mark":{"type":"text","align":"right","fontWeight":"bold","fontSize":11},
    "encoding":{"x":{"field":"size2","type":"quantitative","axis":{"values":[1,10,100,1000,10000],"labelExpr":"format(datum.value,'d')","title":"Size (nm)","titleFontSize":13,"labelFontSize":11,"labelPadding":2,"titlePadding":0,"labelBound":false,"labelFlush":false,"labelOverlap":false}},"y":{"field":"n","type":"quantitative","axis":{"values":[0,12,24,36],"labelOverlap":false,"title":null,"labelFontSize":11}},"text":{"field":"s"}}}
  ]}
],"spacing":0,"bounds":"flush","resolve":{"scale":{"x":"independent","y":"independent"}}}
],
"spacing":1,
"resolve":{"scale":{"x":"independent","y":"independent","color":"independent"},"legend":{"color":"independent"}}
}
